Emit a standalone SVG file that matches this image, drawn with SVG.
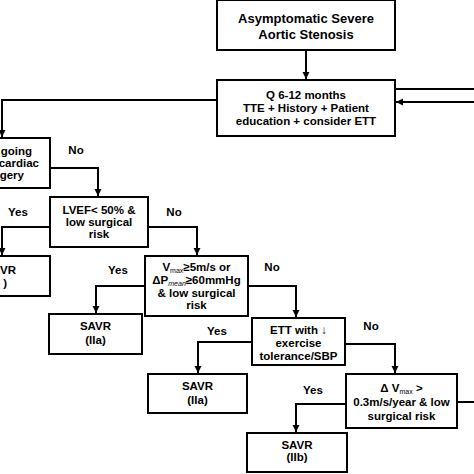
<svg xmlns="http://www.w3.org/2000/svg" width="474" height="474" viewBox="0 0 474 474">
<defs>
<marker id="ah" markerWidth="8" markerHeight="8" refX="7" refY="4" orient="auto" markerUnits="userSpaceOnUse">
<path d="M0,0.5 L7,4 L0,7.5 Z" fill="#000"/>
</marker>
<style>
.box{fill:#fff;stroke:#000;stroke-width:2}
.t{font-family:"Liberation Sans",Arial,sans-serif;font-weight:bold;font-size:11.5px;fill:#000;text-anchor:middle}
.e{text-anchor:end}
.big{font-size:13px}
.lab{font-family:"Liberation Sans",Arial,sans-serif;font-weight:bold;font-size:11.5px;fill:#000;text-anchor:middle}
.sub{font-size:7px;font-weight:normal}
.c{fill:none;stroke:#000;stroke-width:2}
</style>
</defs>
<rect width="474" height="474" fill="#fff"/>
<g id="connectors">
<path class="c" d="M306,50 V79" marker-end="url(#ah)"/>
<path class="c" d="M217,100 H2 V137" marker-end="url(#ah)"/>
<path class="c" d="M395,89 H474"/>
<path class="c" d="M474,102 H396" marker-end="url(#ah)"/>
<path class="c" d="M50,168 H98 V196" marker-end="url(#ah)"/>
<path class="c" d="M50,227 H2 V255" marker-end="url(#ah)"/>
<path class="c" d="M148,227 H197 V255" marker-end="url(#ah)"/>
<path class="c" d="M145,286 H96 V313" marker-end="url(#ah)"/>
<path class="c" d="M248,286 H296 V317" marker-end="url(#ah)"/>
<path class="c" d="M252,342 H198 V373" marker-end="url(#ah)"/>
<path class="c" d="M345,344 H395 V373" marker-end="url(#ah)"/>
<path class="c" d="M457,402 H474"/>
<path class="c" d="M346,404 H296 V432" marker-end="url(#ah)"/>
<text class="lab" x="76" y="154">No</text>
<text class="lab" x="18" y="216">Yes</text>
<text class="lab" x="174" y="216">No</text>
<text class="lab" x="118" y="274">Yes</text>
<text class="lab" x="272" y="271">No</text>
<text class="lab" x="217" y="335">Yes</text>
<text class="lab" x="371" y="330">No</text>
<text class="lab" x="313" y="394">Yes</text>
</g>
<g id="n-start">
<rect class="box" x="217" y="0" width="178" height="50"/>
<text class="t big" x="306" y="23">Asymptomatic Severe</text>
<text class="t big" x="306" y="39">Aortic Stenosis</text>
</g>
<g id="n-followup">
<rect class="box" x="217" y="80" width="178" height="56"/>
<text class="t" x="306" y="99">Q 6-12 months</text>
<text class="t" x="306" y="112">TTE + History + Patient</text>
<text class="t" x="306" y="125">education + consider ETT</text>
</g>
<g id="n-surgery">
<rect class="box" x="-60" y="138" width="110" height="50"/>
<text class="t e" x="32" y="155">going</text>
<text class="t e" x="39" y="167">cardiac</text>
<text class="t e" x="24" y="179">gery</text>
</g>
<g id="n-savr1">
<rect class="box" x="-60" y="256" width="110" height="40"/>
<text class="t e" x="16" y="274">VR</text>
<text class="t e" x="7" y="287">)</text>
</g>
<g id="n-lvef">
<rect class="box" x="50" y="197" width="98" height="50"/>
<text class="t" x="99" y="214">LVEF&lt; 50% &amp;</text>
<text class="t" x="99" y="226">low surgical</text>
<text class="t" x="99" y="238">risk</text>
</g>
<g id="n-vmax">
<rect class="box" x="145" y="256" width="103" height="60"/>
<text class="t" x="196.5" y="271">V<tspan class="sub" dy="1.5">max</tspan><tspan dy="-1.5">≥5m/s or</tspan></text>
<text class="t" x="196.5" y="284">ΔP<tspan class="sub" dy="1.5" font-style="italic">mean</tspan><tspan dy="-1.5">≥60mmHg</tspan></text>
<text class="t" x="196.5" y="297">&amp; low surgical</text>
<text class="t" x="196.5" y="309">risk</text>
</g>
<g id="n-savr2a">
<rect class="box" x="49" y="314" width="93" height="40"/>
<text class="t" x="95.5" y="330">SAVR</text>
<text class="t" x="95.5" y="344">(IIa)</text>
</g>
<g id="n-ett">
<rect class="box" x="252" y="318" width="93" height="47"/>
<text class="t" x="298.5" y="334">ETT with ↓</text>
<text class="t" x="298.5" y="347">exercise</text>
<text class="t" x="298.5" y="360">tolerance/SBP</text>
</g>
<g id="n-savr2a-b">
<rect class="box" x="148" y="374" width="99" height="39"/>
<text class="t" x="197.5" y="390">SAVR</text>
<text class="t" x="197.5" y="404">(IIa)</text>
</g>
<g id="n-dvmax">
<rect class="box" x="346" y="374" width="111" height="54"/>
<text class="t" x="401.5" y="392">Δ V<tspan class="sub" dy="1.5">max</tspan><tspan dy="-1.5"> &gt;</tspan></text>
<text class="t" x="401.5" y="406">0.3m/s/year &amp; low</text>
<text class="t" x="401.5" y="420">surgical risk</text>
</g>
<g id="n-savr2b">
<rect class="box" x="247" y="433" width="100" height="39"/>
<text class="t" x="297" y="449">SAVR</text>
<text class="t" x="297" y="461">(IIb)</text>
</g>
</svg>
